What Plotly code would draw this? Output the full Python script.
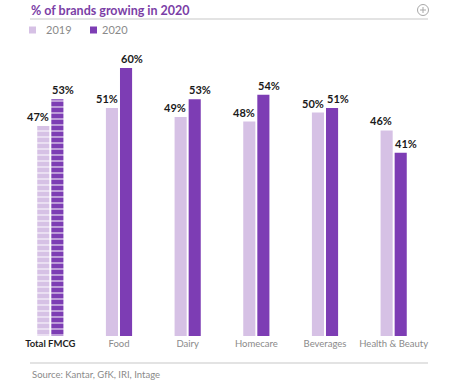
import plotly.graph_objects as go

categories = ["Total FMCG", "Food", "Dairy", "Homecare", "Beverages", "Health & Beauty"]
tick_labels = ["<b><span style='color:#1f1f1f'>Total FMCG</span></b>", "Food", "Dairy", "Homecare", "Beverages", "Health & Beauty"]
values_2019 = [47, 51, 49, 48, 50, 46]
values_2020 = [53, 60, 53, 54, 51, 41]
series_names = ["2019", "2020"]
title_text = "% of brands growing in 2020"
source_text = "Source: Kantar, GfK, IRI, Intage"

C19 = "#d6c1e5"
C20 = "#7d3db4"
FONT = "Lato, 'Open Sans', sans-serif"

stripe = ["-"] + [""] * (len(categories) - 1)

fig = go.Figure()
for name, vals, col, off in [(series_names[0], values_2019, C19, -0.5), (series_names[1], values_2020, C20, 0.5)]:
    fig.add_trace(go.Bar(
        x=categories, y=vals, name=name,
        marker=dict(color=col, line=dict(width=0),
                    pattern=dict(shape=stripe, fillmode="overlay", fgcolor="white",
                                 fgopacity=0.9, size=6, solidity=0.18)),
        cliponaxis=False, showlegend=False, hoverinfo="x+y",
    ))
    for c, v in zip(categories, vals):
        fig.add_annotation(x=c, y=v, text=f"<b>{v}%</b>", showarrow=False,
                           xanchor="center", yanchor="bottom", xshift=off * 25, yshift=1,
                           font=dict(family=FONT, size=11, color="#1a1a1a"))

L, R, T, B = 16, 23, 50, 47
fig.update_layout(
    width=451, height=383,
    margin=dict(l=L, r=R, t=T, b=B, autoexpand=False),
    paper_bgcolor="white", plot_bgcolor="white",
    barmode="group", bargap=0.59, bargroupgap=0.14,
    font=dict(family=FONT),
)
fig.update_xaxes(tickmode="array", tickvals=categories, ticktext=tick_labels,
                 tickfont=dict(family=FONT, size=9.5, color="#8a8a8a"),
                 showgrid=False, showline=False, ticks="", ticklen=0, automargin=False)
fig.update_yaxes(range=[0, 64], visible=False, showgrid=False)

W = 451 - L - R
H = 383 - T - B
def px(x):
    return (x - L) / W
def py(y):
    return (383 - B - y) / H

fig.add_annotation(xref="paper", yref="paper", x=px(29), y=py(10), xanchor="left",
                   yanchor="middle", text=f"<b>{title_text}</b>", showarrow=False,
                   font=dict(family=FONT, size=12.5, color="#7b3ea6"))
shapes = []
shapes.append(dict(type="line", xref="paper", yref="paper", x0=px(30), x1=px(428), y0=py(19), y1=py(19),
                   line=dict(color="#c8c8c8", width=1.2)))
shapes.append(dict(type="line", xref="paper", yref="paper", x0=px(30), x1=px(428), y0=py(363), y1=py(363),
                   line=dict(color="#c8c8c8", width=1.2)))
shapes.append(dict(type="circle", xref="paper", yref="paper", x0=px(417.5), x1=px(428.5), y0=py(4.5), y1=py(15.5),
                   line=dict(color="#a8a8a8", width=1)))
shapes.append(dict(type="line", xref="paper", yref="paper", x0=px(420), x1=px(426), y0=py(10), y1=py(10),
                   line=dict(color="#a8a8a8", width=1)))
shapes.append(dict(type="line", xref="paper", yref="paper", x0=px(423), x1=px(423), y0=py(7), y1=py(13),
                   line=dict(color="#a8a8a8", width=1)))
leg = [(series_names[0], C19, 29, 44), (series_names[1], C20, 90, 100)]
for name, col, sx, tx in leg:
    shapes.append(dict(type="rect", xref="paper", yref="paper", x0=px(sx), x1=px(sx + 7), y0=py(26.5), y1=py(33.5),
                       fillcolor=col, line=dict(width=0)))
    fig.add_annotation(xref="paper", yref="paper", x=px(tx), y=py(30), xanchor="left", yanchor="middle",
                       text=name, showarrow=False, font=dict(family=FONT, size=11, color="#8a8a8a"))
fig.update_layout(shapes=shapes)

fig.add_annotation(xref="paper", yref="paper", x=px(30), y=py(374), xanchor="left", yanchor="middle",
                   text=source_text, showarrow=False, font=dict(family=FONT, size=9.5, color="#8a8a8a"))

fig.write_html("out.html", config={"displayModeBar": False},
               post_script="document.body.style.margin='0';document.body.style.overflow='hidden';")
